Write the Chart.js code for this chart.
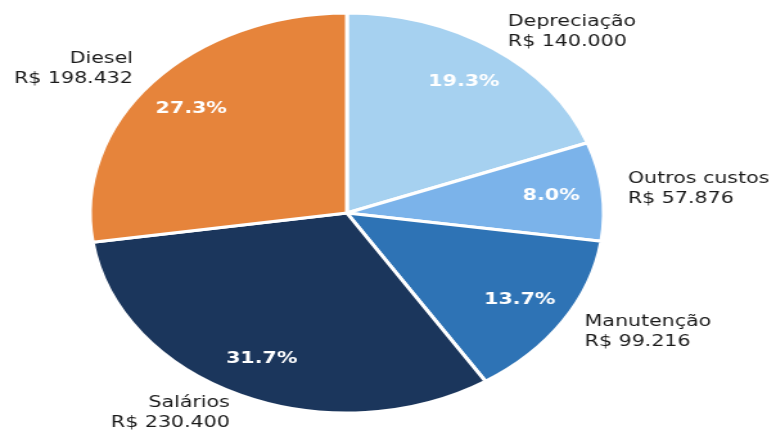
<!DOCTYPE html>
<html>
<head>
<meta charset="utf-8">
<script src="https://cdn.jsdelivr.net/npm/chart.js@4/dist/chart.umd.min.js"></script>
<style>
  html, body { margin: 0; padding: 0; background: #fff; }
  #pie { display: block; width: 776px; height: 430px; }
</style>
</head>
<body>
<canvas id="pie" width="604" height="430" style="width:776px;height:430px"></canvas>
<script>
// Custos (R$)
const categories = ['Depreciação', 'Outros custos', 'Manutenção', 'Salários', 'Diesel'];
const values = [140000, 57876, 99216, 230400, 198432];
const colors = ['#a6d1f0', '#7bb3ea', '#2e73b5', '#1b365c', '#e6843b'];

function fmtBRL(v) {
  return 'R$ ' + String(v).replace(/\B(?=(\d{3})+(?!\d))/g, '.');
}

// labels outside + percentages inside, matplotlib style
const sliceLabels = {
  id: 'sliceLabels',
  afterDatasetsDraw(chart) {
    const ctx = chart.ctx;
    const meta = chart.getDatasetMeta(0);
    const total = values.reduce((a, b) => a + b, 0);
    meta.data.forEach(function(arc, i) {
      const p = arc.getProps(['x', 'y', 'startAngle', 'endAngle', 'outerRadius'], true);
      const mid = (p.startAngle + p.endAngle) / 2;
      const cx = Math.cos(mid), cy = Math.sin(mid);

      ctx.save();
      ctx.font = 'bold 16px "DejaVu Sans"';
      ctx.fillStyle = '#ffffff';
      ctx.textAlign = 'center';
      ctx.textBaseline = 'middle';
      const pct = (values[i] / total * 100).toFixed(1) + '%';
      ctx.fillText(pct, p.x + cx * p.outerRadius * 0.8, p.y + cy * p.outerRadius * 0.8);

      const lx = p.x + cx * p.outerRadius * 1.1;
      const ly = p.y + cy * p.outerRadius * 1.1;
      ctx.font = '16px "DejaVu Sans"';
      ctx.fillStyle = '#1a1a1a';
      ctx.textAlign = cx >= 0 ? 'left' : 'right';
      ctx.fillText(categories[i], lx, ly - 10);
      ctx.fillText(fmtBRL(values[i]), lx, ly + 10);
      ctx.restore();
    });
  }
};

const ctx = document.getElementById('pie').getContext('2d');

const chart = new Chart(ctx, {
  type: 'pie',
  data: {
    labels: categories,
    datasets: [{
      data: values,
      backgroundColor: colors,
      borderColor: '#ffffff',
      borderWidth: 3
    }]
  },
  options: {
    responsive: false,
    animation: false,
    devicePixelRatio: 1,
    radius: 200,
    layout: { padding: { left: 0, right: 64, top: 13, bottom: 17 } },
    plugins: {
      legend: { display: false },
      tooltip: { enabled: false }
    }
  },
  plugins: [sliceLabels]
});
</script>
</body>
</html>
